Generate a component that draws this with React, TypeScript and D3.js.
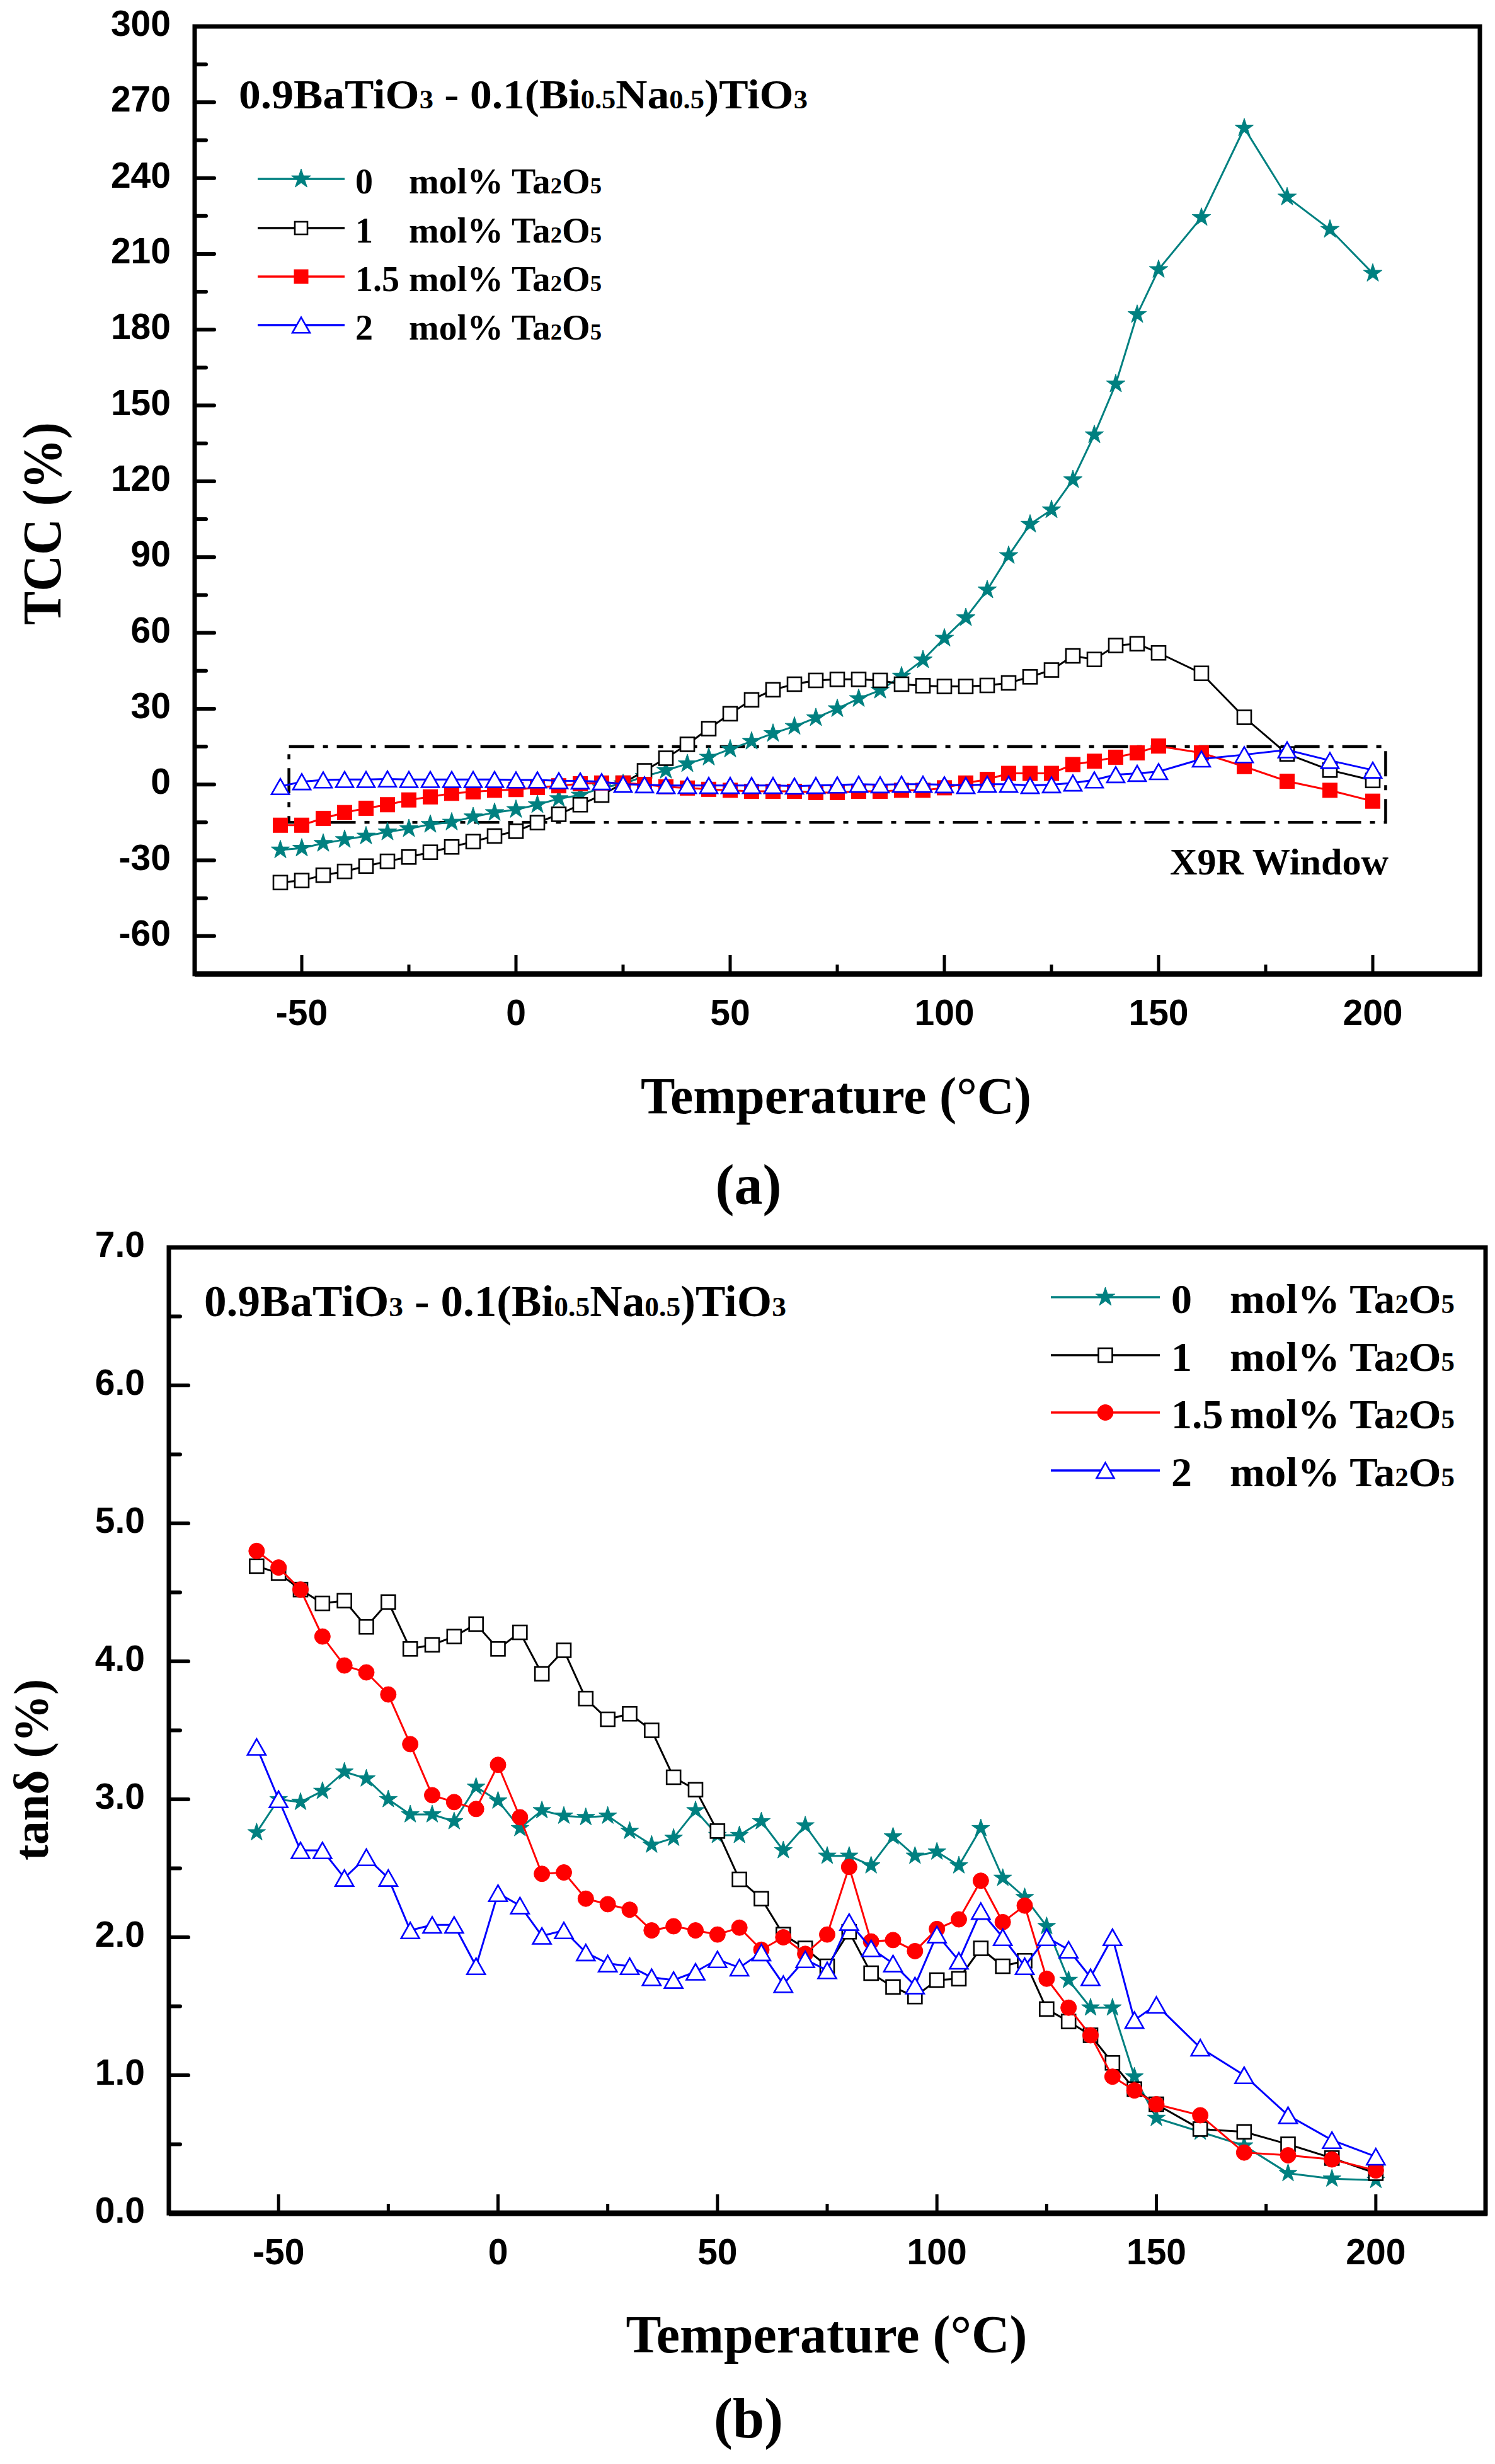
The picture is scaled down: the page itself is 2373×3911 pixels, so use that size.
import React from 'react';
import * as d3 from 'd3';

// ---------------- DATA ----------------
const TEMPS = [
  -55, -50, -45, -40, -35, -30, -25, -20, -15, -10, -5, 0, 5, 10, 15, 20, 25, 30, 35, 40,
  45, 50, 55, 60, 65, 70, 75, 80, 85, 90, 95, 100, 105, 110, 115, 120, 125, 130, 135, 140,
  145, 150, 160, 170, 180, 190, 200,
];

// panel (a): TCC (%)
const TCC_0 = [
  -25.9, -25.2, -23.3, -21.8, -20.4, -18.8, -17.5, -15.8, -14.9, -12.8, -11.1, -9.9, -8.0, -5.6, -4.2, -1.3, 0.3, 3.2, 5.6, 8.2,
  10.8, 14.0, 17.1, 20.2, 23.0, 26.4, 30.0, 34.0, 37.3, 42.9, 49.3, 57.9, 66.0, 77.0, 90.6, 103.0, 108.7, 120.6, 138.4, 158.5,
  186.0, 203.8, 224.4, 259.8, 232.5, 219.7, 202.3,
];
const TCC_1 = [
  -38.8, -38.0, -35.9, -34.4, -32.3, -30.4, -28.7, -26.8, -24.7, -22.6, -20.4, -18.5, -15.1, -11.8, -8.0, -4.2, 0.5, 5.4, 10.4, 15.9,
  22.1, 28.0, 33.5, 37.5, 39.7, 41.2, 41.6, 41.6, 41.2, 39.7, 39.1, 38.8, 38.8, 39.2, 40.2, 42.6, 45.3, 50.9, 49.5, 55.0,
  55.7, 52.1, 44.0, 26.6, 12.1, 5.7, 1.6,
];
const TCC_15 = [
  -16.1, -16.1, -13.4, -11.1, -9.4, -8.0, -6.1, -4.9, -3.5, -2.9, -2.3, -2.0, -1.2, -0.5, 0.3, 0.6, 0.6, 0.0, -0.9, -1.4,
  -1.9, -2.3, -2.7, -2.7, -2.7, -3.2, -3.2, -2.7, -2.7, -2.3, -2.3, -1.3, 0.6, 2.0, 4.4, 4.4, 4.4, 7.9, 9.2, 10.8,
  12.5, 15.2, 12.5, 7.1, 1.3, -2.3, -6.6,
];
const TCC_2 = [
  -0.8, 1.1, 1.8, 2.0, 2.0, 2.2, 2.0, 2.0, 2.0, 2.0, 2.0, 1.8, 1.8, 1.5, 1.4, 1.1, 0.1, -0.1, -0.4, -0.4,
  -0.4, -0.4, -0.4, -0.4, -0.6, -0.4, -0.2, 0.1, -0.1, 0.1, 0.1, -0.1, -0.4, 0.1, 0.1, -0.4, -0.1, 0.6, 1.8, 3.9,
  4.4, 5.1, 10.1, 11.8, 13.7, 9.5, 5.7,
];

// panel (b): tan delta (%)
const TAN_0 = [
  2.76, 3.0, 2.98, 3.06, 3.2, 3.15, 3.0, 2.89, 2.89, 2.84, 3.09, 2.99, 2.79, 2.92, 2.88, 2.87, 2.88, 2.77, 2.67, 2.72,
  2.92, 2.74, 2.74, 2.84, 2.63, 2.81, 2.59, 2.59, 2.52, 2.73, 2.59, 2.62, 2.52, 2.79, 2.43, 2.29, 2.08, 1.69, 1.49, 1.49,
  0.99, 0.69, 0.59, 0.49, 0.29, 0.25, 0.24,
];
const TAN_1 = [
  4.69, 4.64, 4.52, 4.42, 4.44, 4.25, 4.43, 4.09, 4.12, 4.18, 4.27, 4.09, 4.21, 3.91, 4.08, 3.73, 3.58, 3.62, 3.5, 3.16,
  3.07, 2.77, 2.42, 2.28, 2.02, 1.92, 1.79, 2.04, 1.74, 1.64, 1.57, 1.69, 1.7, 1.92, 1.79, 1.83, 1.48, 1.39, 1.29, 1.09,
  0.9, 0.79, 0.61, 0.59, 0.5, 0.4, 0.29,
];
const TAN_15 = [
  4.8, 4.68, 4.52, 4.18, 3.97, 3.92, 3.76, 3.4, 3.03, 2.98, 2.93, 3.25, 2.87, 2.46, 2.47, 2.28, 2.24, 2.2, 2.05, 2.08,
  2.05, 2.02, 2.07, 1.91, 2.0, 1.88, 2.02, 2.51, 1.97, 1.98, 1.9, 2.06, 2.13, 2.41, 2.11, 2.23, 1.7, 1.49, 1.29, 0.99,
  0.89, 0.79, 0.71, 0.44, 0.42, 0.39, 0.31,
];
const TAN_2 = [
  3.38, 3.0, 2.63, 2.63, 2.43, 2.58, 2.43, 2.05, 2.09, 2.09, 1.79, 2.32, 2.23, 2.01, 2.05, 1.89, 1.81, 1.79, 1.71, 1.69,
  1.75, 1.84, 1.78, 1.89, 1.66, 1.84, 1.76, 2.11, 1.92, 1.81, 1.65, 2.02, 1.83, 2.19, 2.0, 1.79, 2.0, 1.91, 1.71, 2.0,
  1.4, 1.51, 1.2, 1.0, 0.71, 0.53, 0.41,
];

const SERIES_NUMS = ['0', '1', '1.5', '2'];
const SERIES_COLORS = ['#008080', '#000000', '#ff0000', '#0000ff'];

const X_DOMAIN = [-75, 225];
const X_TICKS = [-50, 0, 50, 100, 150, 200];
const X_MINOR = [-25, 25, 75, 125, 175];

const TCC_DOMAIN = [-75, 300];
const TCC_TICKS = [-60, -30, 0, 30, 60, 90, 120, 150, 180, 210, 240, 270, 300];
const TCC_MINOR = [-45, -15, 15, 45, 75, 105, 135, 165, 195, 225, 255, 285];

const TAN_DOMAIN = [0, 7];
const TAN_TICKS = [0, 1, 2, 3, 4, 5, 6, 7];
const TAN_MINOR = [0.5, 1.5, 2.5, 3.5, 4.5, 5.5, 6.5];

const X9R_T = [-53, 203];
const X9R_TCC = [-15, 15];

// ---------------- STYLE ----------------
const SERIF = "'Liberation Serif', 'Times New Roman', serif";
const SANS = "'Liberation Sans', Arial, sans-serif";

type Box = { l: number; r: number; t: number; b: number };

function Marker({ kind, x, y, s }: { kind: string; x: number; y: number; s: number }) {
  if (kind === 'star') {
    const p = d3.symbol().type(d3.symbolStar).size(s * s * 0.32)();
    return <path d={p as string} transform={`translate(${x},${y})`} fill="#008080" stroke="#008080" strokeWidth={1} />;
  }
  if (kind === 'square') {
    const h = s / 2;
    return <rect x={x - h} y={y - h} width={s} height={s} fill="#fff" stroke="#000" strokeWidth={2.6} />;
  }
  if (kind === 'fsquare') {
    const h = s / 2;
    return <rect x={x - h} y={y - h} width={s} height={s} fill="#ff0000" stroke="#ff0000" strokeWidth={1} />;
  }
  if (kind === 'circle') {
    return <circle cx={x} cy={y} r={s / 2} fill="#ff0000" stroke="#ff0000" strokeWidth={1} />;
  }
  // triangle
  const w = s, h = s * 0.88;
  const d = `M${x},${y - h / 2}L${x + w / 2},${y + h / 2}L${x - w / 2},${y + h / 2}Z`;
  return <path d={d} fill="#fff" stroke="#0000ff" strokeWidth={2.6} />;
}

function Chem({ x, y, size, parts, anchor, len }: { x: number; y: number; size: number; parts: [string, boolean][]; anchor?: string; len?: number }) {
  return (
    <text x={x} y={y} fontFamily={SERIF} fontWeight="bold" fontSize={size} textAnchor={anchor || 'start'}
      {...(len ? { textLength: len, lengthAdjust: 'spacingAndGlyphs' } : {})}>
      {parts.map(([t, sub], i) => (
        <tspan key={i} fontSize={sub ? size * 0.64 : size}>{t}</tspan>
      ))}
    </text>
  );
}

const TITLE_PARTS: [string, boolean][] = [
  ['0.9BaTiO', false], ['3', true], [' - 0.1(Bi', false], ['0.5', true], ['Na', false], ['0.5', true], [')TiO', false], ['3', true],
];
const MOL_PARTS: [string, boolean][] = [['mol% Ta', false], ['2', true], ['O', false], ['5', true]];

function Panel(props: {
  box: Box; yDomain: number[]; yTicks: number[]; yMinor: number[]; yFmt: (v: number) => string;
  series: number[][]; kinds: string[]; msize: number[]; children?: React.ReactNode;
}) {
  const { box, yDomain, yTicks, yMinor, yFmt, series, kinds, msize } = props;
  const x = d3.scaleLinear().domain(X_DOMAIN).range([box.l, box.r]);
  const y = d3.scaleLinear().domain(yDomain).range([box.b, box.t]);
  const line = d3.line<number>().x((_, i) => x(TEMPS[i])).y((v) => y(v));
  const inside = (v: number) => v > yDomain[0] && v < yDomain[1];
  return (
    <g>
      {props.children}
      {series.map((vals, si) => (
        <g key={si}>
          <path d={line(vals) as string} fill="none" stroke={SERIES_COLORS[si]} strokeWidth={3} />
          {vals.map((v, i) => (
            <Marker key={i} kind={kinds[si]} x={x(TEMPS[i])} y={y(v)} s={msize[si]} />
          ))}
        </g>
      ))}
      {/* frame */}
      <rect x={box.l} y={box.t} width={box.r - box.l} height={box.b - box.t} fill="none" stroke="#000" strokeWidth={7} />
      <line x1={box.l} x2={box.r + 3} y1={box.b} y2={box.b} stroke="#000" strokeWidth={9} />
      {/* y ticks */}
      {yTicks.filter(inside).map((t) => (
        <line key={'yt' + t} x1={box.l} x2={box.l + 31} y1={y(t)} y2={y(t)} stroke="#000" strokeWidth={6} strokeLinecap="round" />
      ))}
      {yMinor.filter(inside).map((t) => (
        <line key={'ym' + t} x1={box.l} x2={box.l + 18} y1={y(t)} y2={y(t)} stroke="#000" strokeWidth={6} strokeLinecap="round" />
      ))}
      {yTicks.map((t) => (
        <text key={'yl' + t} x={box.l - 38} y={y(t) + 15} textAnchor="end" fontFamily={SANS} fontWeight="bold" fontSize={57}>
          {yFmt(t).replace('\u2212', '-')}
        </text>
      ))}
      {/* x ticks */}
      {X_TICKS.map((t) => (
        <line key={'xt' + t} x1={x(t)} x2={x(t)} y1={box.b} y2={box.b - 30} stroke="#000" strokeWidth={5} />
      ))}
      {X_MINOR.map((t) => (
        <line key={'xm' + t} x1={x(t)} x2={x(t)} y1={box.b} y2={box.b - 15} stroke="#000" strokeWidth={5} />
      ))}
      {X_TICKS.map((t) => (
        <text key={'xl' + t} x={x(t)} y={box.b + 81} textAnchor="middle" fontFamily={SANS} fontWeight="bold" fontSize={57}>
          {String(t)}
        </text>
      ))}
    </g>
  );
}

function Legend({ x1, x2, rows, kinds, msize, numX, molX, size, len, base }: {
  x1: number; x2: number; rows: number[]; kinds: string[]; msize: number[]; numX: number; molX: number; size: number; len: number; base: number;
}) {
  const mx = (x1 + x2) / 2;
  return (
    <g>
      {rows.map((ry, i) => (
        <g key={i}>
          <line x1={x1} x2={x2} y1={ry} y2={ry} stroke={SERIES_COLORS[i]} strokeWidth={3.5} />
          <Marker kind={kinds[i]} x={mx} y={ry} s={msize[i]} />
          <text x={numX} y={ry + base} fontFamily={SERIF} fontWeight="bold" fontSize={size}>{SERIES_NUMS[i]}</text>
          <Chem x={molX} y={ry + base} size={size} parts={MOL_PARTS} len={len} />
        </g>
      ))}
    </g>
  );
}

export default function App() {
  const boxA: Box = { l: 309, r: 2349, t: 42, b: 1546 };
  const boxB: Box = { l: 268, r: 2358, t: 1980, b: 3513 };
  const xA = d3.scaleLinear().domain(X_DOMAIN).range([boxA.l, boxA.r]);
  const yA = d3.scaleLinear().domain(TCC_DOMAIN).range([boxA.b, boxA.t]);

  return (
    <div style={{ position: 'absolute', left: 0, top: 0 }}>
      <svg width={2373} height={3911} style={{ display: 'block', background: '#fff' }}>
        <rect x={0} y={0} width={2373} height={3911} fill="#fff" />

        {/* ---------- Panel (a) ---------- */}
        <Panel box={boxA} yDomain={TCC_DOMAIN} yTicks={TCC_TICKS} yMinor={TCC_MINOR} yFmt={d3.format('d')}
          series={[TCC_0, TCC_1, TCC_15, TCC_2]} kinds={['star', 'square', 'fsquare', 'triangle']} msize={[29, 22, 23, 28]}>
          <rect x={xA(X9R_T[0])} y={yA(X9R_TCC[1])} width={xA(X9R_T[1]) - xA(X9R_T[0])} height={yA(X9R_TCC[0]) - yA(X9R_TCC[1])}
            fill="none" stroke="#000" strokeWidth={4.5} strokeDasharray="40 14 8 14" />
        </Panel>
        <Chem x={379} y={172} size={66} parts={TITLE_PARTS} len={903} />
        <Legend x1={409} x2={547} rows={[284, 362, 439, 516]} kinds={['star', 'square', 'fsquare', 'triangle']} msize={[30, 20, 22, 28]}
          numX={564} molX={649} size={56} len={306} base={23} />
        <text x={1857} y={1388} fontFamily={SERIF} fontWeight="bold" fontSize={60} textLength={347} lengthAdjust="spacingAndGlyphs">X9R Window</text>
        <text transform="translate(96,831) rotate(-90)" textAnchor="middle" fontFamily={SERIF} fontWeight="bold" fontSize={86}
          textLength={322} lengthAdjust="spacingAndGlyphs">TCC (%)</text>
        <text x={1327} y={1767} textAnchor="middle" fontFamily={SERIF} fontWeight="bold" fontSize={82} textLength={620} lengthAdjust="spacingAndGlyphs">Temperature (°C)</text>
        <text x={1188} y={1911} textAnchor="middle" fontFamily={SERIF} fontWeight="bold" fontSize={90}>(a)</text>

        {/* ---------- Panel (b) ---------- */}
        <Panel box={boxB} yDomain={TAN_DOMAIN} yTicks={TAN_TICKS} yMinor={TAN_MINOR} yFmt={d3.format('.1f')}
          series={[TAN_0, TAN_1, TAN_15, TAN_2]} kinds={['star', 'square', 'circle', 'triangle']} msize={[28, 22, 25, 29]} />
        <Chem x={324} y={2089} size={70} parts={TITLE_PARTS} len={924} />
        <Legend x1={1668} x2={1841} rows={[2059, 2151, 2242, 2334]} kinds={['star', 'square', 'circle', 'triangle']} msize={[30, 22, 25, 28]}
          numX={1859} molX={1952} size={66} len={357} base={25} />
        <text transform="translate(76,2809) rotate(-90)" textAnchor="middle" fontFamily={SERIF} fontWeight="bold" fontSize={78}
          textLength={288} lengthAdjust="spacingAndGlyphs">tanδ (%)</text>
        <text x={1312} y={3734} textAnchor="middle" fontFamily={SERIF} fontWeight="bold" fontSize={84} textLength={637} lengthAdjust="spacingAndGlyphs">Temperature (°C)</text>
        <text x={1188} y={3869} textAnchor="middle" fontFamily={SERIF} fontWeight="bold" fontSize={90}>(b)</text>
      </svg>
    </div>
  );
}
